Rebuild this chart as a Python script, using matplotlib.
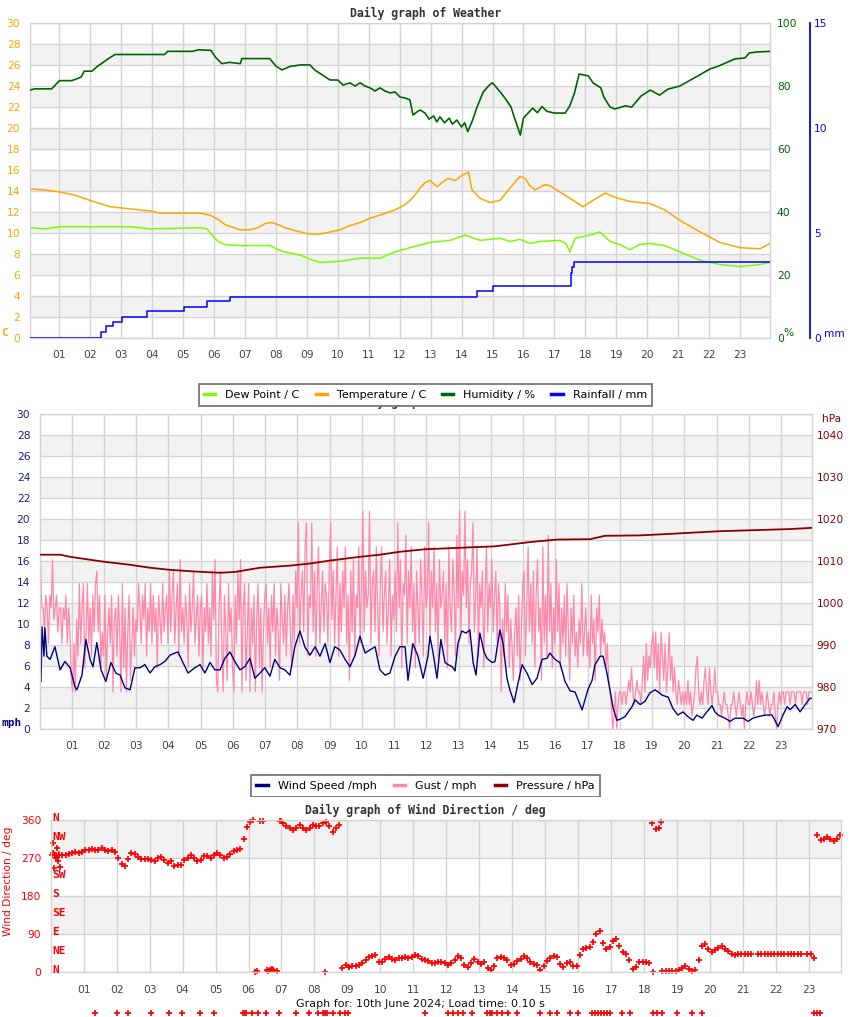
import numpy as np
import matplotlib
matplotlib.use("Agg")
import matplotlib.pyplot as plt
import matplotlib.transforms as mtransforms
from matplotlib.lines import Line2D
from matplotlib.patches import Rectangle

# ---------------- data ----------------
hour_ticks = list(range(1, 24))
hour_labels = [f"{h:02d}" for h in hour_ticks]

temp_hours = [0.05, 0.54, 1.02, 1.51, 1.99, 2.64, 3.28, 3.93, 4.25, 4.9, 5.55, 5.87, 6.13, 6.35,
              6.84, 7.16, 7.42, 7.65, 7.87, 8.07, 8.29, 8.78, 9.1, 9.43, 9.75, 10.07, 10.39, 10.72,
              11.04, 11.36, 11.85, 12.17, 12.33, 12.49, 12.66, 12.82, 12.98, 13.21, 13.37, 13.56,
              13.79, 14.02, 14.22, 14.34, 14.6, 14.92, 15.24, 15.57, 15.89, 16.05, 16.21, 16.37,
              16.7, 16.86, 17.18, 17.67, 17.92, 18.25, 18.64, 18.96, 19.44, 20.09, 20.57, 21.06,
              21.71, 22.35, 23.0, 23.65, 23.97]
temp_vals = [14.2, 14.1, 13.9, 13.6, 13.1, 12.5, 12.3, 12.1, 11.9, 11.9, 11.9, 11.7, 11.3, 10.8,
             10.3, 10.3, 10.5, 10.9, 11.0, 10.8, 10.5, 10.1, 9.9, 9.9, 10.1, 10.3, 10.7, 11.0,
             11.4, 11.7, 12.2, 12.7, 13.1, 13.6, 14.3, 14.8, 15.0, 14.4, 14.8, 15.2,
             15.0, 15.5, 15.8, 14.1, 13.3, 12.9, 13.1, 14.3, 15.4, 15.2, 14.5, 14.1,
             14.6, 14.5, 13.9, 13.0, 12.5, 13.1, 13.8, 13.4, 13.0, 12.8, 12.2, 11.2,
             10.1, 9.1, 8.6, 8.5, 9.0]

dew_hours = [0.05, 0.54, 1.02, 2.31, 3.28, 3.93, 5.55, 5.77, 5.93, 6.13, 6.35, 6.84, 7.81, 8.07,
             8.29, 8.78, 9.1, 9.43, 10.07, 10.72, 11.36, 11.85, 12.33, 12.98, 13.63, 14.12, 14.6,
             15.24, 15.57, 15.89, 16.21, 16.54, 17.18, 17.37, 17.5, 17.67, 18.15, 18.47, 18.8,
             19.12, 19.44, 19.75, 20.09, 20.57, 21.06, 21.71, 22.35, 23.0, 23.65, 23.97]
dew_vals = [10.5, 10.4, 10.6, 10.6, 10.6, 10.4, 10.5, 10.4, 9.8, 9.2, 8.9, 8.8, 8.8, 8.4,
            8.2, 7.9, 7.5, 7.2, 7.3, 7.6, 7.6, 8.2, 8.6, 9.1, 9.3, 9.8, 9.3,
            9.5, 9.2, 9.4, 9.0, 9.2, 9.3, 9.0, 8.2, 9.5, 9.8, 10.1, 9.2,
            8.9, 8.4, 8.9, 9.0, 8.8, 8.2, 7.4, 7.0, 6.8, 7.0, 7.2]

hum_hours = [0.05, 0.2, 0.75, 1.0, 1.4, 1.7, 1.8, 2.05, 2.2, 2.6, 2.8, 4.4, 4.5, 5.3, 5.5, 5.9,
             6.04, 6.25, 6.5, 6.85, 6.9, 7.8, 8.0, 8.2, 8.45, 8.8, 9.1, 9.25, 9.75, 10.0,
             10.17, 10.39, 10.56, 10.72, 10.88, 11.04, 11.2, 11.36, 11.53, 11.69, 11.85, 12.01,
             12.17, 12.33, 12.43, 12.55, 12.66, 12.82, 12.95, 13.1, 13.2, 13.3, 13.45, 13.6,
             13.7, 13.85, 14.0, 14.1, 14.2, 14.35, 14.5, 14.7, 14.9, 15.0, 15.25, 15.4, 15.6,
             15.7, 15.9, 16.0, 16.3, 16.45, 16.6, 16.75, 17.0, 17.35, 17.5, 17.65, 17.8, 18.1,
             18.25, 18.5, 18.6, 18.8, 18.95, 19.3, 19.5, 19.8, 20.1, 20.4, 20.67, 21.06, 21.4,
             21.64, 22.03, 22.3, 22.6, 22.84, 23.16, 23.3, 23.55, 23.97]
hum_vals = [78.7, 79.1, 79.1, 81.7, 81.7, 82.8, 84.7, 84.7, 86.0, 88.8, 90.0, 90.0, 91.0, 91.0,
            91.5, 91.3, 89.2, 87.1, 87.5, 87.1, 88.7, 88.7, 86.3, 85.1, 86.2, 86.7, 86.7, 85.1,
            81.9, 81.9, 80.3, 81.0, 80.0, 81.0, 80.0, 79.4, 78.4, 79.4, 78.4, 77.8, 78.1, 76.5,
            76.2, 75.6, 70.8, 71.7, 72.4, 71.4, 69.5, 70.5, 68.6, 70.2, 68.3, 69.8,
            67.9, 69.2, 67.0, 68.3, 65.5, 69.0, 73.3, 78.1, 80.3, 81.0, 78.1, 76.2, 73.3,
            70.2, 64.4, 69.8, 73.0, 71.5, 73.5, 72.0, 71.4, 71.4, 73.7, 77.8, 83.8, 83.2,
            81.0, 79.4, 76.5, 73.3, 72.7, 73.7, 73.3, 76.8, 78.7, 77.1, 79.0, 80.0, 81.9,
            83.2, 85.4, 86.3, 87.6, 88.6, 88.9, 90.5, 90.8, 91.0]

rain_hours = [0.05, 2.35, 2.51, 2.73, 3.02, 3.83, 5.03, 5.77, 6.52, 14.49, 15.01, 17.55, 17.58,
              17.63, 23.97]
rain_vals = [0.0, 0.29, 0.56, 0.76, 1.0, 1.27, 1.46, 1.75, 1.94, 2.22, 2.48, 3.1, 3.4, 3.63, 3.63]

wind_hours = [0.05, 0.08, 0.14, 0.17, 0.23, 0.33, 0.48, 0.64, 0.79, 0.95, 1.10, 1.16, 1.32, 1.44,
              1.57, 1.66, 1.78, 1.91, 2.06, 2.22, 2.37, 2.50, 2.65, 2.81, 2.96, 3.12, 3.27, 3.43,
              3.58, 3.74, 3.89, 4.05, 4.20, 4.30, 4.45, 4.61, 4.82, 4.98, 5.13, 5.29, 5.44, 5.60,
              5.75, 5.91, 6.06, 6.22, 6.37, 6.53, 6.68, 6.84, 6.99, 7.15, 7.30, 7.46, 7.61, 7.77,
              7.92, 8.08, 8.23, 8.39, 8.55, 8.70, 8.86, 9.01, 9.16, 9.32, 9.48, 9.63, 9.79, 9.94,
              10.10, 10.25, 10.41, 10.56, 10.72, 10.87, 11.03, 11.18, 11.34, 11.43, 11.58, 11.74,
              11.90, 12.05, 12.11, 12.21, 12.33, 12.45, 12.58, 12.67, 12.80, 12.89, 12.98, 13.10,
              13.23, 13.35, 13.45, 13.54, 13.66, 13.79, 13.88, 14.04, 14.13, 14.28, 14.38, 14.50,
              14.59, 14.72, 14.84, 14.97, 15.12, 15.28, 15.43, 15.59, 15.74, 15.83, 15.99, 16.14,
              16.30, 16.46, 16.61, 16.83, 17.01, 17.14, 17.23, 17.39, 17.48, 17.60, 17.70, 17.79,
              17.91, 18.01, 18.16, 18.38, 18.47, 18.63, 18.78, 18.93, 19.09, 19.19, 19.31, 19.50,
              19.65, 19.80, 19.96, 20.11, 20.27, 20.39, 20.55, 20.70, 20.86, 20.95, 21.05, 21.26,
              21.42, 21.57, 21.82, 21.98, 22.13, 22.29, 22.51, 22.72, 22.81, 22.91, 23.06, 23.19,
              23.28, 23.44, 23.59, 23.75, 23.90, 23.96]
wind_vals = [4.5, 9.7, 6.9, 9.6, 6.9, 6.6, 7.8, 5.6, 6.4, 5.8, 4.0, 3.7, 5.1, 8.5,
             6.6, 5.9, 8.2, 5.6, 4.5, 6.3, 5.3, 5.1, 3.9, 3.7, 5.8, 5.8, 6.1, 5.3,
             5.9, 6.1, 6.4, 7.0, 7.2, 7.3, 6.3, 5.3, 5.8, 6.1, 5.3, 6.3, 5.6, 5.6,
             6.7, 7.3, 6.4, 5.6, 5.9, 6.7, 4.8, 5.3, 5.8, 5.0, 6.6, 5.8, 5.6, 5.1,
             7.8, 9.3, 7.8, 7.0, 7.8, 6.9, 8.1, 6.3, 7.8, 7.5, 6.6, 5.9, 7.0, 8.8,
             7.2, 7.5, 7.8, 5.6, 5.1, 5.3, 6.9, 7.8, 7.8, 4.6, 8.1, 6.9,
             4.8, 6.9, 8.8, 7.2, 4.8, 8.5, 6.3, 6.1, 5.9, 5.5, 8.1, 9.3,
             9.1, 9.4, 6.3, 5.1, 9.1, 7.3, 6.7, 6.3, 6.4, 9.4, 8.1, 4.8,
             3.7, 2.5, 4.3, 6.1, 5.3, 4.2, 4.8, 6.6, 6.7, 7.2, 6.6, 6.3,
             4.5, 3.6, 3.5, 1.8, 3.7, 4.6, 6.1, 6.9, 6.9, 5.3, 3.6, 2.0,
             0.8, 0.9, 1.15, 2.1, 2.75, 2.3, 2.6, 3.4, 3.7, 3.5, 3.2, 3.0,
             1.9, 1.3, 1.6, 1.15, 0.8, 1.3, 1.0, 1.6, 2.2, 1.6, 1.3, 1.0,
             0.7, 1.0, 1.0, 0.7, 1.0, 1.15, 1.3, 1.3, 0.8, 0.2, 1.3, 2.1,
             1.8, 2.3, 1.6, 2.3, 2.9, 2.9]

# gust samples every 2.5 minutes, one row per hour
gust_start, gust_step = 0.03, 1.0 / 24
gust_vals = [
    16.1, 11.5, 11.5, 9.2, 12.7, 11.5, 8.1, 12.7, 11.5, 16.1, 10.4, 11.5, 12.7, 9.2, 11.5, 11.5, 8.1, 11.5, 10.4, 12.7, 8.1, 11.5, 9.2, 4.6,
    3.5, 8.1, 3.5, 10.4, 6.9, 13.8, 8.1, 11.5, 13.8, 5.8, 9.2, 13.8, 8.1, 11.5, 6.9, 12.7, 9.2, 13.8, 15.0, 9.2, 12.7, 5.8, 9.2, 6.9,
    12.7, 4.6, 9.2, 11.5, 8.1, 12.7, 3.5, 10.4, 11.5, 6.9, 12.7, 9.2, 3.5, 13.8, 5.8, 11.5, 3.5, 9.2, 12.7, 4.6, 8.1, 11.5, 6.9, 10.4,
    9.2, 13.8, 11.5, 8.1, 12.7, 10.4, 13.8, 6.9, 11.5, 9.2, 13.8, 8.1, 12.7, 9.2, 11.5, 5.8, 12.7, 10.4, 8.1, 13.8, 9.2, 11.5, 12.7, 8.1,
    15.0, 9.2, 12.7, 15.0, 8.1, 11.5, 13.8, 6.9, 16.1, 9.2, 11.5, 8.1, 12.7, 10.4, 5.8, 13.8, 9.2, 11.5, 15.0, 8.1, 10.4, 12.7, 6.9, 11.5,
    12.7, 5.8, 11.5, 9.2, 13.8, 8.1, 11.5, 6.9, 15.0, 10.4, 16.1, 4.6, 3.5, 11.5, 15.0, 8.1, 3.5, 12.7, 9.2, 4.6, 13.8, 9.2, 11.5, 5.8,
    3.5, 12.7, 8.1, 15.0, 10.4, 16.1, 3.5, 11.5, 13.8, 4.6, 9.2, 13.8, 3.5, 11.5, 8.1, 12.7, 3.5, 10.4, 13.8, 5.8, 11.5, 3.5, 9.2, 12.7,
    13.8, 8.1, 11.5, 5.8, 12.7, 9.2, 13.8, 6.9, 11.5, 9.2, 4.6, 13.8, 10.4, 8.1, 12.7, 6.9, 11.5, 13.8, 9.2, 5.8, 12.7, 8.1, 15.0, 11.5,
    19.6, 8.1, 12.7, 15.0, 9.2, 17.3, 19.6, 6.9, 12.7, 11.5, 19.6, 9.2, 15.0, 6.9, 13.8, 17.3, 8.1, 11.5, 15.0, 9.2, 13.8, 12.7, 8.1, 15.0,
    19.6, 10.4, 15.0, 8.1, 12.7, 17.3, 6.9, 13.8, 9.2, 15.0, 11.5, 17.3, 8.1, 12.7, 4.6, 15.0, 9.2, 16.1, 6.9, 12.7, 11.5, 17.3, 8.1, 13.8,
    20.7, 9.2, 15.0, 11.5, 12.7, 20.7, 8.1, 13.8, 15.0, 9.2, 17.3, 11.5, 6.9, 13.8, 17.3, 9.2, 12.7, 15.0, 8.1, 11.5, 16.1, 6.9, 12.7, 10.4,
    15.0, 9.2, 19.6, 11.5, 16.1, 5.8, 13.8, 12.7, 18.4, 8.1, 15.0, 11.5, 17.3, 9.2, 13.8, 5.8, 15.0, 11.5, 8.1, 16.1, 12.7, 6.9, 17.3, 11.5,
    12.7, 19.6, 8.1, 15.0, 11.5, 17.3, 9.2, 13.8, 6.9, 16.1, 11.5, 12.7, 15.0, 8.1, 13.8, 5.8, 17.3, 11.5, 9.2, 16.1, 12.7, 6.9, 18.4, 11.5,
    20.7, 9.2, 15.0, 12.7, 20.7, 11.5, 16.1, 8.1, 13.8, 15.0, 19.6, 9.2, 12.7, 17.3, 6.9, 13.8, 11.5, 15.0, 5.8, 12.7, 17.3, 9.2, 13.8, 11.5,
    16.1, 9.2, 12.7, 15.0, 8.1, 13.8, 11.5, 3.5, 10.4, 6.9, 13.8, 9.2, 12.7, 5.8, 10.4, 8.1, 4.6, 9.2, 11.5, 6.9, 12.7, 4.6, 9.2, 13.8,
    15.0, 6.9, 11.5, 17.3, 9.2, 13.8, 8.1, 15.0, 5.8, 12.7, 16.1, 9.2, 11.5, 4.6, 17.3, 8.1, 12.7, 6.9, 18.4, 9.2, 13.8, 5.8, 11.5, 8.1,
    16.1, 9.2, 13.8, 5.8, 11.5, 8.1, 12.7, 6.9, 13.8, 9.2, 4.6, 11.5, 8.1, 12.7, 6.9, 9.2, 5.8, 10.4, 8.1, 13.8, 6.9, 9.2, 11.5, 6.9,
    9.2, 5.8, 12.7, 8.1, 10.4, 4.6, 11.5, 9.2, 12.7, 6.9, 10.4, 8.1, 9.2, 5.8, 8.1, 4.6, 3.5, 2.3, 0.0, 1.2, 3.5, 0.0, 2.3, 3.5,
    3.5, 2.3, 3.5, 3.5, 2.3, 3.5, 4.6, 3.5, 5.8, 3.5, 2.3, 3.5, 4.6, 3.5, 3.5, 2.3, 4.6, 6.9, 3.5, 8.1, 4.6, 6.9, 5.8, 8.1,
    9.2, 5.8, 9.2, 4.6, 8.1, 3.5, 9.2, 6.9, 4.6, 8.1, 3.5, 5.8, 9.2, 4.6, 6.9, 3.5, 5.8, 3.5, 2.3, 4.6, 3.5, 2.3, 3.5, 2.3,
    3.5, 2.3, 4.6, 2.3, 3.5, 1.2, 2.3, 3.5, 5.8, 6.9, 3.5, 2.3, 3.5, 2.3, 4.6, 5.8, 3.5, 2.3, 5.8, 3.5, 2.3, 3.5, 5.8, 3.5,
    3.5, 2.3, 2.3, 1.2, 2.3, 3.5, 2.3, 2.3, 1.2, 0.0, 2.3, 2.3, 3.5, 2.3, 1.2, 2.3, 3.5, 2.3, 1.2, 2.3, 0.0, 2.3, 3.5, 2.3,
    2.3, 3.5, 2.3, 1.2, 2.3, 4.6, 2.3, 4.6, 2.3, 3.5, 2.3, 1.2, 2.3, 3.5, 2.3, 1.2, 2.3, 2.3, 3.5, 1.2, 0.0, 2.3, 3.5, 2.3,
    3.5, 3.5, 2.3, 3.5, 3.5, 3.5, 2.3, 3.5, 3.5, 3.5, 2.3, 3.5, 3.5, 3.5, 3.5, 2.3, 3.5, 3.5, 3.5, 2.3, 3.5, 3.5, 3.5, 3.5,
]

press_hours = [0.05, 0.64, 0.95, 1.57, 2.03, 2.81, 3.43, 4.05, 4.82, 5.6, 6.06, 6.84, 7.77, 8.39,
               9.01, 9.94, 10.56, 11.18, 11.96, 14.13, 15.21, 16.05, 17.08, 17.54, 18.63, 19.41,
               21.11, 23.28, 23.96]
press_vals = [1011.4, 1011.4, 1010.9, 1010.2, 1009.7, 1009.0, 1008.3, 1007.8, 1007.4, 1007.1,
              1007.3, 1008.3, 1008.8, 1009.3, 1010.0, 1010.9, 1011.4, 1012.1, 1012.7, 1013.4,
              1014.4, 1015.0, 1015.1, 1015.9, 1016.0, 1016.3, 1017.0, 1017.5, 1017.8]

nan = float("nan")
wdir_start, wdir_step = 0.05, 0.1
wdir_vals = [
    277, 277, 277, 278, 278, 280, 283, 284, 283, 285,
    289, 288, 291, 288, 290, 293, 290, 287, 289, 285,
    270, 257, 251, 268, 282, 280, 272, 267, 267, 268,
    266, 262, 270, 272, 266, 259, 262, 252, 253, 254,
    266, 271, 277, 270, 263, 265, 275, 276, 270, 278,
    281, 277, 270, 272, 280, 287, 288, 291, 315, 343,
    355, 360, 2, 357, 358, 5, 6, 5, 4, 357,
    352, 346, 340, 336, 340, 348, 342, 336, 342, 348,
    345, 345, 352, 356, 346, 332, 340, 348, 10, 17,
    13, 15, 16, 17, 23, 30, 35, 38, 41, 25,
    24, 32, 37, 31, 29, 33, 34, 35, 33, 36,
    40, 38, 32, 29, 26, 23, 21, 24, 25, 22,
    18, 22, 30, 39, 33, 18, 13, 22, 31, 25,
    20, 24, 10, 5, 15, 33, 37, 33, 28, 18,
    20, 26, 32, 39, 34, 24, 19, 17, 6, 14,
    27, 33, 39, 36, 20, 13, 21, 25, 15, 16,
    40, 55, 58, 60, 72, 90, 98, 70, 56, 60,
    74, 78, 62, 47, 43, 30, 8, 12, 25, 24,
    25, 22, 352, 338, 340, 4, 4, 4, 4, 4,
    5, 9, 15, 8, 2, 5, 29, 63, 68, 54,
    47, 52, 57, 61, 55, 51, 44, 40, 43, 43,
    43, 43, 43, nan, 43, 43, 43, 43, 43, 43,
    43, 43, 43, 43, 43, 43, 43, 43, nan, 43,
    43, 33, 325, 313, 315, 320, 316, 311, 316, 325,
]
wdir_extra_hours = [0.08, 0.2, 0.08, 0.17, 0.23, 0.1, 0.28, 6.2, 6.6, 6.7, 7.0, 8.33, 18.26, 18.5]
wdir_extra_vals = [305, 293, 281, 269, 262, 246, 250, 0, 3, 8, 358, 0, 0, 356]
# samples drawn below the plot area (out of range)
wdir_low_hours = [1.34, 2.01, 2.34, 3.04, 3.59, 3.98, 4.53, 4.95, 5.83, 5.89, 5.92, 6.1, 6.29,
                  6.53, 6.92, 7.44, 7.83, 8.11, 8.26, 8.32, 8.38, 8.56, 8.77, 8.93, 9.02,
                  11.35, 12.05, 12.2, 12.36, 12.51, 12.78, 13.23, 13.32, 13.38, 13.53, 13.69,
                  13.87, 14.14, 14.84, 15.14, 15.36, 15.75, 16.0, 16.42, 16.5, 16.6, 16.69,
                  16.78, 16.87, 16.96, 17.33, 17.57, 18.27, 18.39, 18.54, 18.99, 19.45, 19.75,
                  23.15, 23.24, 23.33]

compass = [(360, "N"), (315, "NW"), (270, "W"), (225, "SW"), (180, "S"),
           (135, "SE"), (90, "E"), (45, "NE"), (0, "N")]

# ---------------- figure ----------------
W, H = 850, 1017
fig = plt.figure(figsize=(W / 100, H / 100), dpi=100)

GRID = "#d4d4d4"
BAND = "#f2f2f2"
TXT = "#444444"
TS = 7.7
MONO = "DejaVu Sans Mono"


def add_ax(x0, y0, x1, y1):
    return fig.add_axes([x0 / W, 1 - y1 / H, (x1 - x0) / W, (y1 - y0) / H])


def ftext(x, y, s, **kw):
    return fig.text(x / W, 1 - y / H, s, **kw)


def base(ax, xlim, ylim, yticks, bands, ycolor, ypad=7):
    ax.set_xlim(*xlim)
    ax.set_ylim(*ylim)
    for lo, hi in bands:
        ax.axhspan(lo, hi, color=BAND, lw=0, zorder=0)
    ax.set_xticks(hour_ticks)
    ax.set_xticklabels(hour_labels)
    ax.set_yticks(yticks)
    ax.set_axisbelow(True)
    ax.grid(True, color=GRID, lw=1.0)
    for s in ax.spines.values():
        s.set_color(GRID)
        s.set_linewidth(1.0)
    ax.tick_params(axis="x", length=0, pad=9, labelsize=TS, labelcolor=TXT)
    ax.tick_params(axis="y", length=0, pad=ypad, labelsize=TS, labelcolor=ycolor)


def bare_twin(ax):
    t = ax.twinx()
    for s in t.spines.values():
        s.set_visible(False)
    return t


# ---- chart 1: weather ----
ax1 = add_ax(30, 23, 770, 338)
base(ax1, (0.05, 23.97), (0, 30), list(range(0, 31, 2)),
     [(b, b + 2) for b in range(2, 28, 4)], "#FFA500")
ax1h = bare_twin(ax1)
ax1h.set_ylim(0, 100)
ax1h.set_yticks([0, 20, 40, 60, 80, 100])
ax1h.tick_params(axis="y", length=0, pad=5, labelsize=TS, labelcolor="#006400")
ax1r = bare_twin(ax1)
ax1r.set_ylim(0, 15)
ax1r.set_yticks([0, 5, 10, 15])
ax1r.spines["right"].set_visible(True)
ax1r.spines["right"].set_position(("axes", (810 - 30) / 740))
ax1r.spines["right"].set_color("#0000FF")
ax1r.spines["right"].set_linewidth(1.3)
ax1r.tick_params(axis="y", length=0, pad=3, labelsize=TS, labelcolor="#0000FF")

ax1r.plot(rain_hours, rain_vals, color="#0000FF", lw=1.1, drawstyle="steps-post")
ax1h.plot(hum_hours, hum_vals, color="#006400", lw=1.2)
ax1.plot(temp_hours, temp_vals, color="#FFA500", lw=1.1)
ax1.plot(dew_hours, dew_vals, color="#7CFC00", lw=1.1)

ftext(425.5, 13, "Daily graph of Weather", ha="center", va="center", family=MONO,
      weight="bold", size=8.3, color="#333333")
ftext(5, 333, "C", ha="center", va="center", family=MONO, weight="bold", size=8, color="#FFA500")
ftext(783, 333, "%", ha="left", va="center", size=TS, color="#006400")
ftext(824, 334, "mm", ha="left", va="center", size=TS, color="#0000FF")

# ---- chart 2: wind / pressure ----
ax2 = add_ax(40, 413.5, 812.3, 728.7)
base(ax2, (0.017, 23.97), (0, 30), list(range(0, 31, 2)),
     [(b, b + 2) for b in range(2, 28, 4)], "#1C1C8C")
ax2p = bare_twin(ax2)
ax2p.set_ylim(970, 1045)
ax2p.set_yticks(list(range(970, 1041, 10)))
ax2p.tick_params(axis="y", length=0, pad=3, labelsize=TS, labelcolor="#8B0000")

gust_hours = [gust_start + i * gust_step for i in range(len(gust_vals))]
ax2.plot(gust_hours, gust_vals, color="#FF88AA", lw=0.9)
ax2.plot(wind_hours, wind_vals, color="#000080", lw=1.0)
ax2p.plot(press_hours, press_vals, color="#8B0000", lw=1.3)

ftext(425.5, 402, "Daily graph of Weather", ha="center", va="center", family=MONO,
      weight="bold", size=8.3, color="#333333")
ftext(822, 419, "hPa", ha="left", va="center", size=TS, color="#8B0000")
ftext(2, 723, "mph", ha="left", va="center", family=MONO, weight="bold", size=8, color="#000080")

# ---- chart 3: wind direction ----
ax3 = add_ax(51, 820, 840.7, 972.3)
base(ax3, (0.01, 23.96), (0, 360), [0, 90, 180, 270, 360], [(90, 180), (270, 360)], "#FF0000")
wd_hours = [wdir_start + i * wdir_step for i in range(len(wdir_vals))]
mk = dict(ls="none", marker="+", color="#FF0000", ms=4.0, mew=1.25, clip_on=False)
ax3.plot(wd_hours, wdir_vals, **mk)
ax3.plot(wdir_extra_hours, wdir_extra_vals, **mk)
low_tr = mtransforms.blended_transform_factory(ax3.transData, ax3.transAxes)
ax3.plot(wdir_low_hours, [-(1013 - 972.3) / 152.3] * len(wdir_low_hours), transform=low_tr, **mk)
comp_tr = mtransforms.blended_transform_factory(ax3.transAxes, ax3.transData)
for deg, lab in compass:
    ax3.text(0.002, deg + 5, lab, transform=comp_tr, ha="left", va="center", family=MONO,
             weight="bold", size=8, color="#FF0000", clip_on=False, zorder=5)

ftext(8, 881, "Wind Direction / deg", rotation=90, ha="center", va="center", size=TS,
      color="#FF0000")

# ---- legends ----
leg1_handles = [Line2D([], [], color=c, lw=2.5) for c in ["#7CFC00", "#FFA500", "#006400", "#0000FF"]]
leg1 = fig.legend(leg1_handles, ["Dew Point / C", "Temperature / C", "Humidity / %", "Rainfall / mm"],
                  loc="center", bbox_to_anchor=(425.5 / W, 1 - 395 / H), ncol=4, frameon=True,
                  fancybox=False, edgecolor="#777777", framealpha=1.0, fontsize=8,
                  handlelength=1.0, handletextpad=0.9, columnspacing=1.45, borderpad=0.5)
leg1.get_frame().set_linewidth(1.3)

leg2_handles = [Line2D([], [], color=c, lw=2.5) for c in ["#000080", "#FF88AA", "#8B0000"]]
leg2 = fig.legend(leg2_handles, ["Wind Speed /mph", "Gust / mph", "Pressure / hPa"],
                  loc="center", bbox_to_anchor=(425.5 / W, 1 - 786 / H), ncol=3, frameon=True,
                  fancybox=False, edgecolor="#777777", framealpha=1.0, fontsize=8,
                  handlelength=1.0, handletextpad=0.9, columnspacing=1.6, borderpad=0.5)
leg2.get_frame().set_linewidth(1.3)

cover = Rectangle((0, 1 - 812 / H), 1, (812 - 797) / H, transform=fig.transFigure,
                  facecolor="white", edgecolor="none", zorder=6)
fig.patches.append(cover)

ftext(425, 810, "Daily graph of Wind Direction / deg", ha="center", va="center", family=MONO,
      weight="bold", size=8.3, color="#333333", zorder=7)
ftext(420.5, 1004, "Graph for: 10th June 2024; Load time: 0.10 s", ha="center", va="center",
      size=8, color="#111111")

fig.savefig("out.png", dpi=100)
